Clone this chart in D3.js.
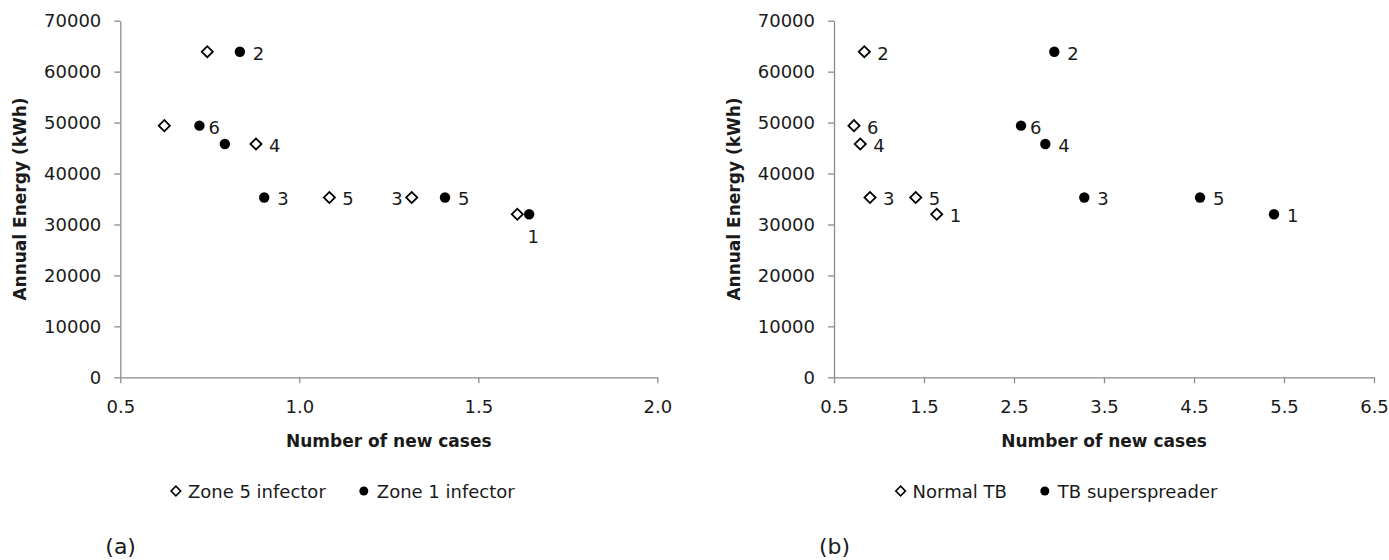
<!DOCTYPE html>
<html>
<head>
<meta charset="utf-8">
<script src="https://cdnjs.cloudflare.com/ajax/libs/d3/7.8.5/d3.min.js"></script>
<style>
  body { margin: 0; background: #fff; }
  text { font-family: "DejaVu Sans", sans-serif; fill: #1a1a1a; }
  .axis path, .axis line { stroke: #8c8c8c; stroke-width: 1.3; }
  .axis text { font-size: 18px; }
  .title { font-size: 17px; font-weight: bold; }
</style>
</head>
<body>
<div id="chart"></div>
<script>
// case numbers (labels next to the points)
var caseIds = ["1", "2", "3", "4", "5", "6"]

// annual energy for each case (kWh), same for both panels
var energy = [32000, 63900, 35300, 45800, 35300, 49400]

// panel (a): number of new cases
var zone5X = [1.609, 0.743, 1.314, 0.879, 1.084, 0.623]
var zone1X = [1.642, 0.834, 0.902, 0.792, 1.407, 0.721]

// panel (b): number of new cases
var normalX = [1.641, 0.837, 0.900, 0.792, 1.408, 0.722]
var superX  = [5.389, 2.948, 3.281, 2.848, 4.567, 2.578]

// tick values
var yTicks  = [0, 10000, 20000, 30000, 40000, 50000, 60000, 70000]
var xTicksA = [0.5, 1.0, 1.5, 2.0]
var xTicksB = [0.5, 1.5, 2.5, 3.5, 4.5, 5.5, 6.5]

// where the number label goes for each point ("" = no label)
var zone5Lab  = ["", "", "left", "right", "right", ""]
var zone1Lab  = ["below", "right", "right", "", "right", "tight"]
var normalLab = ["right", "right", "right", "right", "right", "right"]
var superLab  = ["right", "right", "right", "right", "right", "tight"]

var svg = d3.select("#chart")
  .append("svg")
    .attr("width", 1389)
    .attr("height", 560)

var diamond = d3.symbol().type(d3.symbolSquare).size(62)

function drawPanel(p) {
  var x = d3.scaleLinear().domain(p.xDomain).range([p.left, p.right])
  var y = d3.scaleLinear().domain([0, 70000]).range([377.3, 20.7])

  // axes
  svg.append("g")
    .attr("class", "axis")
    .attr("transform", "translate(0,377.3)")
    .call(d3.axisBottom(x).tickValues(p.xTicks).tickFormat(d3.format(".1f"))
      .tickSize(6).tickSizeOuter(0).tickPadding(17))

  svg.append("g")
    .attr("class", "axis")
    .attr("transform", "translate(" + p.left + ",0)")
    .call(d3.axisLeft(y).tickValues(yTicks).tickFormat(d3.format("d"))
      .tickSize(6).tickSizeOuter(0).tickPadding(13))

  svg.selectAll(".axis .domain").attr("stroke", "#8c8c8c")

  // axis titles
  svg.append("text")
    .attr("class", "title")
    .attr("x", (p.left + p.right) / 2)
    .attr("y", 447)
    .attr("text-anchor", "middle")
    .text("Number of new cases")

  svg.append("text")
    .attr("class", "title")
    .attr("transform", "translate(" + (p.left - 94) + "," + 199 + ") rotate(-90)")
    .attr("text-anchor", "middle")
    .text("Annual Energy (kWh)")

  // the two series
  var open = caseIds.map(function(c, i) { return {id: c, x: p.openX[i], y: energy[i], lab: p.openLab[i]} })
  var fill = caseIds.map(function(c, i) { return {id: c, x: p.fillX[i], y: energy[i], lab: p.fillLab[i]} })

  svg.selectAll(null)
    .data(open)
    .enter()
    .append("path")
      .attr("d", diamond)
      .attr("transform", function(d) { return "translate(" + x(d.x) + "," + y(d.y) + ") rotate(45)" })
      .attr("fill", "#fff")
      .attr("stroke", "#000")
      .attr("stroke-width", 1.8)

  svg.selectAll(null)
    .data(fill)
    .enter()
    .append("circle")
      .attr("cx", function(d) { return x(d.x) })
      .attr("cy", function(d) { return y(d.y) })
      .attr("r", 5.2)
      .attr("fill", "#000")

  // number labels
  var labs = open.concat(fill).filter(function(d) { return d.lab != "" })
  svg.selectAll(null)
    .data(labs)
    .enter()
    .append("text")
      .attr("font-size", "18px")
      .attr("x", function(d) {
        if (d.lab == "left") return x(d.x) - 9
        if (d.lab == "below") return x(d.x) + 4
        if (d.lab == "tight") return x(d.x) + 9
        return x(d.x) + 13
      })
      .attr("y", function(d) {
        if (d.lab == "below") return y(d.y) + 29
        return y(d.y) + 8
      })
      .attr("text-anchor", function(d) {
        if (d.lab == "left") return "end"
        if (d.lab == "below") return "middle"
        return "start"
      })
      .text(function(d) { return d.id })

  // legend, centred under the chart area
  var lg = svg.append("g")
  var item1 = lg.append("g")
  item1.append("path")
    .attr("d", d3.symbol().type(d3.symbolSquare).size(46))
    .attr("transform", "translate(0,491) rotate(45)")
    .attr("fill", "#fff").attr("stroke", "#000").attr("stroke-width", 1.6)
  var t1 = item1.append("text").attr("x", 12).attr("y", 498).attr("font-size", "18px").text(p.openName)
  var w1 = 12 + t1.node().getComputedTextLength()

  var item2 = lg.append("g").attr("transform", "translate(" + (w1 + 38) + ",0)")
  item2.append("circle").attr("cx", 0).attr("cy", 491).attr("r", 4.5).attr("fill", "#000")
  var t2 = item2.append("text").attr("x", 13).attr("y", 498).attr("font-size", "18px").text(p.fillName)
  var w = w1 + 38 + 13 + t2.node().getComputedTextLength()
  lg.attr("transform", "translate(" + (p.left + 220 - w / 2 + 5) + ",0)")

  // panel letter
  svg.append("text")
    .attr("x", p.left - 15)
    .attr("y", 554)
    .attr("font-size", "22px")
    .text(p.letter)
}

drawPanel({
  left: 120.3, right: 657.3, xDomain: [0.5, 2.0], xTicks: xTicksA,
  openX: zone5X, fillX: zone1X, openLab: zone5Lab, fillLab: zone1Lab,
  openName: "Zone 5 infector", fillName: "Zone 1 infector", letter: "(a)"
})

drawPanel({
  left: 834, right: 1374, xDomain: [0.5, 6.5], xTicks: xTicksB,
  openX: normalX, fillX: superX, openLab: normalLab, fillLab: superLab,
  openName: "Normal TB", fillName: "TB superspreader", letter: "(b)"
})
</script>
</body>
</html>
